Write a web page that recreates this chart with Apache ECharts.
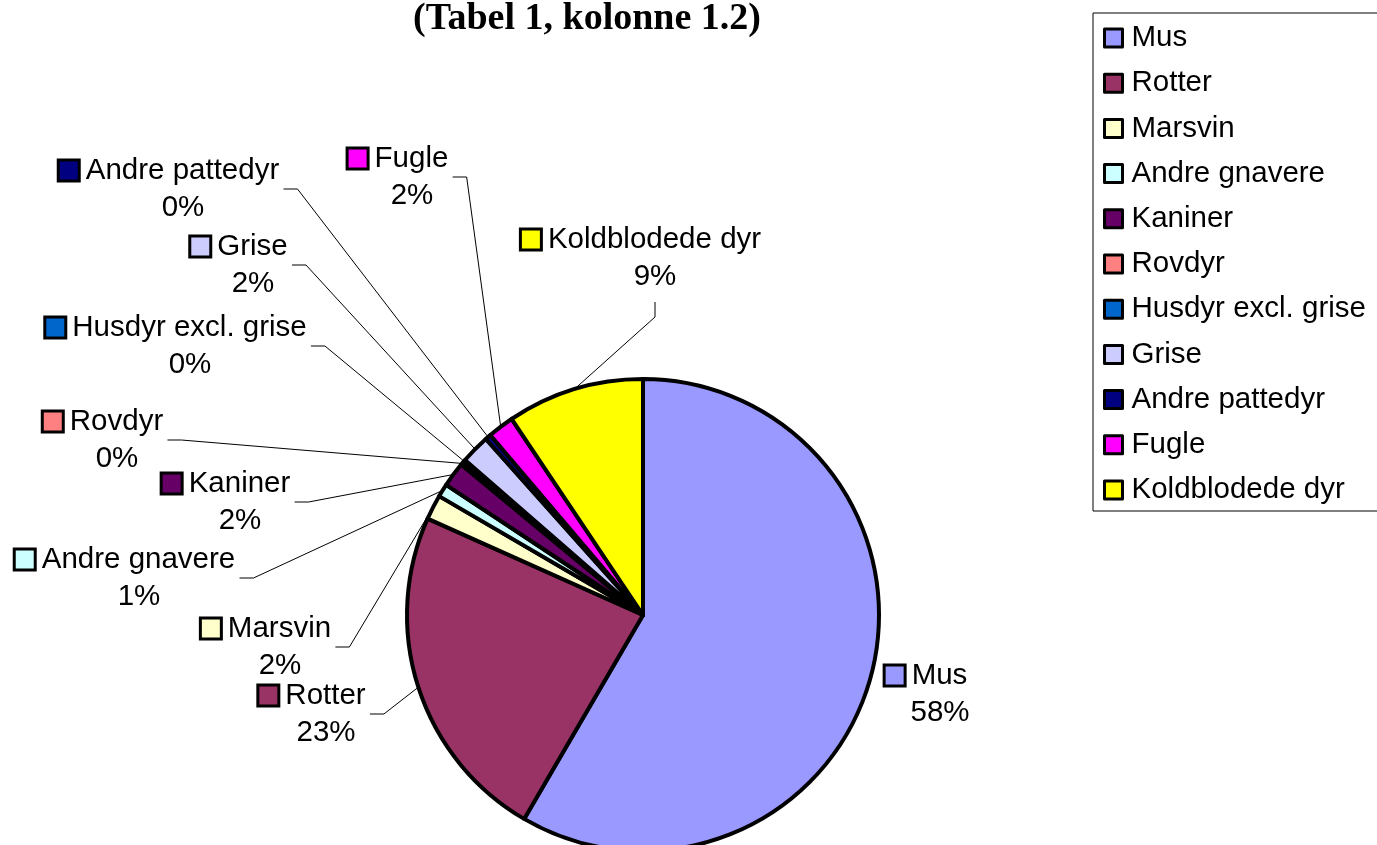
<!DOCTYPE html>
<html>
<head>
<meta charset="utf-8">
<script src="https://cdn.jsdelivr.net/npm/echarts@6/dist/echarts.min.js"></script>
<style>
  html, body { margin: 0; padding: 0; background: #fff; }
  #chart { width: 1377px; height: 845px; }
</style>
</head>
<body>
<div id="chart"></div>
<script>
var titleText = '(Tabel 1, kolonne 1.2)';
var categories = ['Mus', 'Rotter', 'Marsvin', 'Andre gnavere', 'Kaniner', 'Rovdyr',
  'Husdyr excl. grise', 'Grise', 'Andre pattedyr', 'Fugle', 'Koldblodede dyr'];
var shares = [58.4, 23.3, 1.7, 0.9, 1.7, 0.2, 0.2, 2.0, 0.4, 1.8, 9.4];
var colors = ['#9999FF', '#993366', '#FFFFCC', '#CCFFFF', '#660066', '#FF8080',
  '#0066CC', '#CCCCFF', '#000080', '#FF00FF', '#FFFF00'];

// centre of each data label block (name line + percent line)
var labelPos = [[940, 694], [326, 714], [280, 647], [139, 578], [240, 502], [117, 440],
  [190, 346], [253, 265], [183, 189], [412, 177], [655, 258]];
// which side the leader line leaves the label from
var lineSide = ['none', 'right', 'right', 'right', 'right', 'right',
  'right', 'right', 'right', 'right', 'bottom'];

var FONT = 'Liberation Sans, Arial, sans-serif';
var PAD = 27; // icon + gap, mirrored on the right so the text stays centred

var chart = echarts.init(document.getElementById('chart'), null, { renderer: 'canvas' });

var rich = {
  nm: { fontFamily: FONT, fontSize: 29.5, lineHeight: 37, color: '#000', align: 'center', padding: [0, 0, 0, 8] },
  pd: { width: PAD, align: 'center' },
  pc: { fontFamily: FONT, fontSize: 29.5, lineHeight: 37, color: '#000', align: 'center' }
};
colors.forEach(function (c, i) {
  rich['ic' + i] = {
    width: 18, height: 18, backgroundColor: c, borderColor: '#000', borderWidth: 3,
    align: 'center', verticalAlign: 'middle'
  };
});

var data = [];
for (var i = 0; i < categories.length; i++) {
  var item = { name: categories[i], value: shares[i], itemStyle: { color: colors[i] } };
  if (lineSide[i] === 'none') item.labelLine = { show: false };
  data.push(item);
}

var option = {
  animation: false,
  backgroundColor: '#fff',
  title: {
    text: titleText,
    left: 587,
    top: 0,
    padding: 0,
    textAlign: 'center',
    textStyle: { fontFamily: 'Liberation Serif, Times New Roman, serif', fontWeight: 'bold', fontSize: 38, color: '#000' }
  },
  legend: {
    orient: 'vertical',
    left: 1093,
    top: 13,
    padding: [10, 30, 6, 10],
    borderColor: '#000',
    borderWidth: 1,
    itemWidth: 18,
    itemHeight: 18,
    itemGap: 15.2,
    icon: 'rect',
    selectedMode: false,
    itemStyle: { borderColor: '#000', borderWidth: 3 },
    textStyle: { fontFamily: FONT, fontSize: 29.5, lineHeight: 30, color: '#000', padding: [0, 0, 0, 4] },
    data: categories
  },
  series: [{
    type: 'pie',
    center: [643, 615],
    radius: 236,
    startAngle: 90,
    clockwise: true,
    avoidLabelOverlap: false,
    emphasis: { scale: false },
    itemStyle: { borderColor: '#000', borderWidth: 4 },
    label: {
      show: true,
      position: 'outer',
      alignTo: 'none',
      formatter: function (p) {
        return '{ic' + p.dataIndex + '|}{nm|' + p.name + '}{pd|}\n{pc|' + Math.round(p.percent) + '%}';
      },
      rich: rich
    },
    labelLine: {
      show: true,
      length: 10,
      length2: 10,
      smooth: false,
      lineStyle: { color: '#000', width: 1 }
    },
    labelLayout: function (p) {
      var i = p.dataIndex;
      var pos = labelPos[i];
      var res = { x: pos[0], y: pos[1], align: 'center', verticalAlign: 'middle' };
      var pts = p.labelLinePoints;
      if (!pts || lineSide[i] === 'none') return res;
      var start = pts[0];
      if (lineSide[i] === 'right') {
        var halfText = p.labelRect.width / 2 - PAD;
        var ax = pos[0] + halfText + 9.5;
        res.labelLinePoints = [[start[0], start[1]], [ax + 14, pos[1]], [ax, pos[1]]];
      } else {
        var ay = pos[1] + 44;
        res.labelLinePoints = [[start[0], start[1]], [pos[0], ay + 15], [pos[0], ay]];
      }
      return res;
    },
    data: data
  }]
};

chart.setOption(option);
</script>
</body>
</html>
